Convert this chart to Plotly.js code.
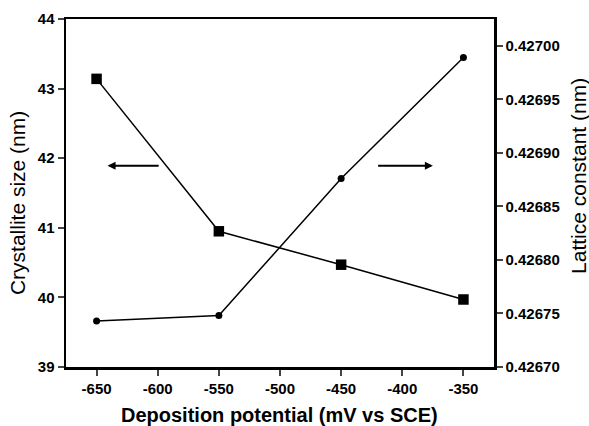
<!DOCTYPE html>
<html>
<head>
<meta charset="utf-8">
<script src="https://cdn.plot.ly/plotly-3.0.1.min.js"></script>
<style>html,body{margin:0;padding:0;background:#fff}#chart{width:589px;height:426px}</style>
</head>
<body>
<div id="chart"></div>
<script>
var potential = [-650, -550, -450, -350];
var crystalliteSize = [43.14, 40.95, 40.47, 39.97];
var latticeConstant = [0.426743, 0.426748, 0.426876, 0.426989];
var xTickVals = [-650, -600, -550, -500, -450, -400, -350];
var xTickText = ['-650', '-600', '-550', '-500', '-450', '-400', '-350'];
var yTickVals = [39, 40, 41, 42, 43, 44];
var y2TickVals = [0.4267, 0.42675, 0.4268, 0.42685, 0.4269, 0.42695, 0.427];
var y2TickText = ['0.42670', '0.42675', '0.42680', '0.42685', '0.42690', '0.42695', '0.42700'];
var xTitle = 'Deposition potential (mV vs SCE)';
var yTitle = 'Crystallite size (nm)';
var y2Title = 'Lattice constant (nm)';

var FAM = 'Liberation Sans, Arial, sans-serif';
var tickFont = {family: FAM, size: 15, color: '#000', weight: 'bold'};

var traces = [
  {x: potential, y: crystalliteSize, type: 'scatter', mode: 'lines+markers',
   line: {color: '#000', width: 1.5}, marker: {symbol: 'square', size: 10.5, color: '#000'},
   yaxis: 'y', showlegend: false},
  {x: potential, y: latticeConstant, type: 'scatter', mode: 'lines+markers',
   line: {color: '#000', width: 1.5}, marker: {symbol: 'circle', size: 7, color: '#000'},
   yaxis: 'y2', showlegend: false}
];

var layout = {
  width: 589, height: 426,
  margin: {l: 66, r: 95, t: 19, b: 59},
  paper_bgcolor: '#fff', plot_bgcolor: '#fff',
  xaxis: {
    range: [-675, -325], tickvals: xTickVals, ticktext: xTickText, ticks: 'outside', ticklen: 6, tickwidth: 2,
    showline: true, linewidth: 2.5, linecolor: '#000', mirror: true, showgrid: false, zeroline: false,
    tickfont: tickFont
  },
  yaxis: {
    range: [39, 44], tickvals: yTickVals, ticks: 'outside', ticklen: 6, tickwidth: 2,
    showline: true, linewidth: 2.5, linecolor: '#000', showgrid: false, zeroline: false,
    tickfont: tickFont
  },
  yaxis2: {
    overlaying: 'y', side: 'right',
    range: [0.4267, 0.427025], tickvals: y2TickVals, ticktext: y2TickText,
    ticks: 'outside', ticklen: 6, tickwidth: 2,
    showline: true, linewidth: 2.5, linecolor: '#000', showgrid: false, zeroline: false,
    tickfont: tickFont
  },
  annotations: [
    {x: -641, y: 41.89, ax: -598, ay: 41.89, xref: 'x', yref: 'y', axref: 'x', ayref: 'y',
     text: '', showarrow: true, arrowhead: 2, arrowsize: 0.8, arrowwidth: 2, arrowcolor: '#000'},
    {x: -375, y: 41.89, ax: -421, ay: 41.89, xref: 'x', yref: 'y', axref: 'x', ayref: 'y',
     text: '', showarrow: true, arrowhead: 2, arrowsize: 0.8, arrowwidth: 2, arrowcolor: '#000'},
    {text: xTitle, xref: 'paper', yref: 'paper', x: 0.4977, y: -0.138, xanchor: 'center', yanchor: 'middle',
     showarrow: false, font: {family: FAM, size: 20, color: '#000', weight: 'bold'}},
    {text: yTitle, xref: 'paper', yref: 'paper', x: -0.1145, y: 0.471, xanchor: 'center', yanchor: 'middle',
     textangle: -90, showarrow: false, font: {family: FAM, size: 21, color: '#000'}},
    {text: y2Title, xref: 'paper', yref: 'paper', x: 1.1986, y: 0.549, xanchor: 'center', yanchor: 'middle',
     textangle: -90, showarrow: false, font: {family: FAM, size: 21, color: '#000'}}
  ]
};

Plotly.newPlot('chart', traces, layout, {displayModeBar: false, staticPlot: true});
</script>
</body>
</html>
